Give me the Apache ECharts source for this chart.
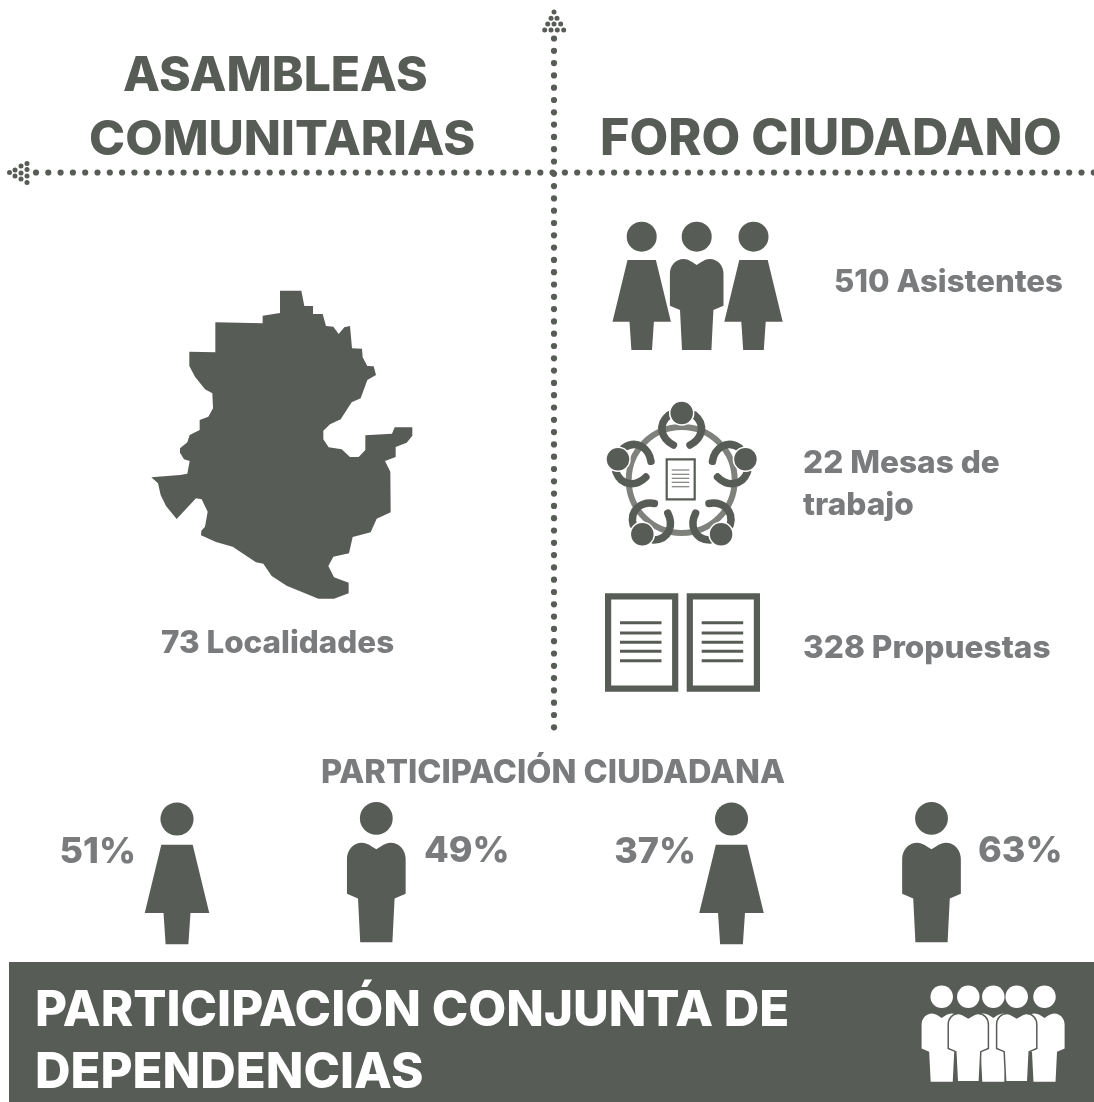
<!DOCTYPE html>
<html>
<head>
<meta charset="utf-8">
<style>
    html, body { margin: 0; padding: 0; background: #fff; }
    #main { width: 1094px; height: 1102px; }
</style>
<script src="https://cdn.jsdelivr.net/npm/echarts@6/dist/echarts.min.js"></script>
</head>
<body>
<div id="main"></div>
<script>
    // textos y valores
    var titleLeft = ['ASAMBLEAS', 'COMUNITARIAS'];
    var titleRight = 'FORO CIUDADANO';
    var localidades = 73;
    var asistentes = 510;
    var mesas = 22;
    var propuestas = 328;
    var titleShare = 'PARTICIPACIÓN CIUDADANA';
    var shareValues = [51, 49, 37, 63];
    var footerLines = ['PARTICIPACIÓN CONJUNTA DE', 'DEPENDENCIAS'];

    var DARK = '#585c56';
    var GREY = '#797b7c';
    var RING = '#7f817d';
    var FONT = 'Inter, "Open Sans", sans-serif';

    // contorno del mapa, medido sobre el recorte (escala 3x)
    var mapOutline = [[450,62],[514,62],[523,108],[549,108],[549,132],[578,132],[588,168],[610,170],[626,192],[643,172],[660,168],[666,235],[696,236],[698,262],[712,288],[731,289],[738,315],[712,330],[692,385],[665,397],[632,448],[600,463],[580,482],[580,508],[596,532],[635,538],[660,561],[686,561],[706,540],[706,496],[786,491],[794,472],[847,472],[847,497],[830,518],[797,531],[797,561],[765,573],[781,605],[782,727],[740,746],[722,787],[668,801],[657,850],[610,860],[595,888],[612,922],[656,938],[656,970],[612,986],[565,986],[470,947],[425,918],[400,881],[378,877],[308,830],[258,816],[213,796],[214,782],[225,770],[233,725],[215,688],[198,685],[140,747],[108,708],[92,675],[84,640],[64,622],[150,615],[172,611],[179,573],[162,568],[150,548],[150,535],[172,517],[179,495],[209,480],[209,450],[235,440],[249,415],[247,370],[225,358],[195,320],[178,288],[178,245],[256,247],[256,157],[398,160],[398,137],[450,129]];

    var WOMAN_BODY = [[-14.2,23.3],[14.2,23.3],[29.2,85],[12.2,85],[10.3,113.3],[-10.3,113.3],[-12.2,85],[-29.2,85]];
    var MAN_BODY = 'M0 28.3 C-4 26 -8 22.3 -13 22.3 C-21 22.3 -26.8 29 -26.8 37 L-26.8 69 L-16.7 73.3 L-14.7 113.3 L14.7 113.3 L16.7 73.3 L26.8 69 L26.8 37 C26.8 29 21 22.3 13 22.3 C8 22.3 4 26 0 28.3 Z';
    var ARMS = 'M-12.7 -65 C-25 -55 -20 -41 -8.3 -35 M12.7 -65 C25 -55 20 -41 8.3 -35';

    // el componente graphic no acepta pathData directo
    echarts.graphic.registerShape('manBody', echarts.graphic.extendPath(MAN_BODY, {}));
    echarts.graphic.registerShape('seatArms', echarts.graphic.extendPath(ARMS, {}));

    var items = [];

    function addText(text, x, y, size, color, align) {
        items.push({
            type: 'text', x: x, y: y, silent: true,
            style: {
                text: text, fill: color, font: '800 ' + size + 'px ' + FONT,
                textAlign: align || 'left', textVerticalAlign: 'middle'
            }
        });
    }
    function addDot(x, y, r) {
        items.push({ type: 'circle', silent: true, shape: { cx: x, cy: y, r: r }, style: { fill: DARK } });
    }
    function addRect(x, y, w, h, fill) {
        items.push({ type: 'rect', silent: true, shape: { x: x, y: y, width: w, height: h }, style: { fill: fill } });
    }
    function addWoman(cx, cy, s, color) {
        items.push({ type: 'circle', silent: true, shape: { cx: cx, cy: cy, r: 15 * s }, style: { fill: color } });
        items.push({
            type: 'polygon', silent: true,
            shape: { points: WOMAN_BODY.map(function (p) { return [cx + p[0] * s, cy + p[1] * s]; }) },
            style: { fill: color }
        });
    }
    function addMan(cx, cy, s, color, edge) {
        items.push({ type: 'circle', silent: true, shape: { cx: cx, cy: cy, r: 15 * s }, style: { fill: color } });
        items.push({
            type: 'manBody', silent: true, x: cx, y: cy, scaleX: s, scaleY: s,
            style: { fill: color, stroke: edge || null, lineWidth: edge ? 2 : 0 }
        });
    }

    // cuadricula de puntos
    var i;
    for (i = 0; i < 87; i++) addDot(36 + i * 12.3, 172.5, 3.1);
    for (i = 0; i < 57; i++) addDot(554, 38.5 + i * 12.3, 3.1);
    // flecha izquierda
    [[9.5,172.5],[15,170],[15,176],[21,166],[21,173],[21,179],[27,163.5],[27,169.5],[27,176],[27,182.5]].forEach(function (p) { addDot(p[0], p[1], 2.5); });
    // flecha arriba
    [[554,12],[551,18.3],[557,18.3],[547.7,24],[554,24],[560.7,24],[544.7,30],[551,30],[557.3,30],[563.7,30]].forEach(function (p) { addDot(p[0], p[1], 2.5); });

    // titulos
    addText(titleLeft[0], 123, 77, 48, DARK);
    addText(titleLeft[1], 89, 140, 48.6, DARK);
    addText(titleRight, 600, 140, 50.2, DARK);

    // mapa
    items.push({
        type: 'polygon', silent: true,
        shape: { points: mapOutline.map(function (p) { return [130 + p[0] / 3, 270 + p[1] / 3]; }) },
        style: { fill: DARK }
    });
    addText(localidades + ' Localidades', 161, 644, 31.4, GREY);

    // asistentes
    addWoman(641.7, 236.7, 1, DARK);
    addMan(696.7, 236.7, 1, DARK);
    addWoman(753.5, 236.7, 1, DARK);
    addText(asistentes + ' Asistentes', 834, 283, 31.2, GREY);

    // mesa de trabajo
    var tableX = 681.7, tableY = 480;
    items.push({ type: 'circle', silent: true, shape: { cx: tableX, cy: tableY, r: 53 }, style: { fill: 'none', stroke: RING, lineWidth: 6 } });
    for (i = 0; i < 5; i++) {
        items.push({
            type: 'seatArms', silent: true, x: tableX, y: tableY, rotation: -i * 72 * Math.PI / 180,
            style: { fill: 'none', stroke: DARK, lineWidth: 7.5, lineCap: 'round' }
        });
        var a = (i * 72 - 90) * Math.PI / 180;
        items.push({
            type: 'circle', silent: true,
            shape: { cx: tableX + 67 * Math.cos(a), cy: tableY + 67 * Math.sin(a), r: 12 },
            style: { fill: DARK, stroke: '#fff', lineWidth: 1.5 }
        });
    }
    items.push({ type: 'rect', silent: true, shape: { x: 666.7, y: 459.3, width: 28, height: 40 }, style: { fill: '#fff', stroke: DARK, lineWidth: 2.2 } });
    [470, 474.3, 478.3, 482.3, 486.7].forEach(function (y) { addRect(671.7, y - 0.6, 17.6, 1.2, RING); });
    addText(mesas + ' Mesas de', 803, 463, 31.6, GREY);
    addText('trabajo', 803, 505, 31.6, GREY);

    // propuestas
    [605, 686.7].forEach(function (x) {
        items.push({ type: 'rect', silent: true, shape: { x: x + 3.1, y: 596.4, width: 67.1, height: 92.2 }, style: { fill: '#fff', stroke: DARK, lineWidth: 6.2 } });
        [622.7, 633, 642.3, 651.3, 660.7].forEach(function (y) { addRect(x + 15, y - 1.5, 41.5, 3, DARK); });
    });
    addText(propuestas + ' Propuestas', 803, 648, 31.6, GREY);

    // participacion ciudadana
    addText(titleShare, 553, 773, 32.6, GREY, 'center');
    addWoman(177, 819, 1.105, DARK);
    addMan(376.3, 818.3, 1.095, DARK);
    addWoman(731.5, 819, 1.105, DARK);
    addMan(931.5, 818.3, 1.095, DARK);
    addText(shareValues[0] + '%', 136, 852, 36, GREY, 'right');
    addText(shareValues[1] + '%', 424, 851, 36, GREY);
    addText(shareValues[2] + '%', 696, 852, 36, GREY, 'right');
    addText(shareValues[3] + '%', 978, 851, 36, GREY);

    // banda inferior
    addRect(9, 962, 1085, 140, DARK);
    addText(footerLines[0], 35, 1011, 49.2, '#fff');
    addText(footerLines[1], 35, 1073, 49.2, '#fff');
    addMan(941.7, 996.7, 0.75, '#fff');
    addMan(993.3, 996.7, 0.75, '#fff');
    addMan(1044.5, 996.7, 0.75, '#fff');
    addMan(968.3, 996.7, 0.75, '#fff', DARK);
    addMan(1016.7, 996.7, 0.75, '#fff', DARK);

    var myChart = echarts.init(document.getElementById('main'), null, { renderer: 'canvas' });
    myChart.setOption({
        animation: false,
        graphic: { elements: items }
    });
</script>
</body>
</html>
